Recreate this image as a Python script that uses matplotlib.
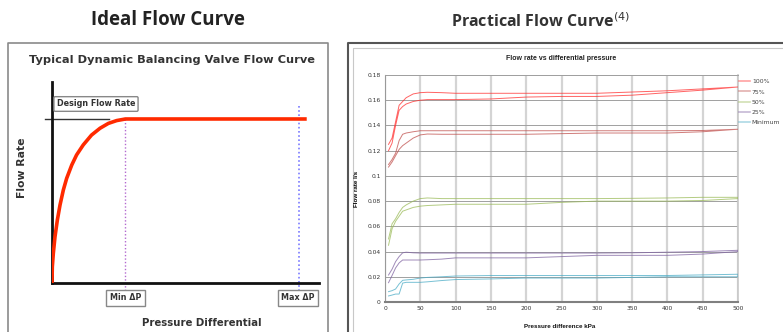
import matplotlib
matplotlib.use("Agg")
import matplotlib.pyplot as plt

W, H = 783, 332
DPI = 100

# ---------------- data: ideal (schematic) curve ----------------
ideal_dp = [0, 0.12, 0.5, 1.12, 2.0, 3.0, 4.25, 5.5, 7.4, 9.2, 11.7, 14.8, 18.0, 21.1, 24.2, 27.5, 95.4]
ideal_flow = [0, 8.1, 14.8, 23.0, 31.3, 38.8, 46.3, 52.1, 58.7, 63.7, 68.7, 73.6, 77.0, 79.4, 80.8, 81.6, 81.6]
design_flow = 81.6
min_dp = 27.3
max_dp = 92.5

# ---------------- data: practical curve (rising / falling pass) ----------------
pressure_kpa = [5, 10, 15, 20, 25, 30, 40, 50, 60, 80, 100, 150, 200, 250, 300, 350, 400, 450, 500]
flow_100_up = [0.125, 0.130, 0.143, 0.156, 0.159, 0.162, 0.165, 0.166, 0.1663, 0.166, 0.1655, 0.1655, 0.1655, 0.1655, 0.1655, 0.1665, 0.1675, 0.169, 0.1705]
flow_100_dn = [0.120, 0.126, 0.140, 0.152, 0.155, 0.157, 0.159, 0.160, 0.1605, 0.1605, 0.1605, 0.161, 0.1625, 0.163, 0.163, 0.164, 0.166, 0.168, 0.1705]
flow_75_up = [0.109, 0.113, 0.118, 0.128, 0.133, 0.134, 0.135, 0.1358, 0.1358, 0.1358, 0.1358, 0.1358, 0.1358, 0.1358, 0.1358, 0.1358, 0.1358, 0.136, 0.137]
flow_75_dn = [0.107, 0.111, 0.116, 0.121, 0.124, 0.126, 0.130, 0.1325, 0.1332, 0.133, 0.133, 0.133, 0.133, 0.1335, 0.134, 0.134, 0.134, 0.135, 0.137]
flow_50_up = [0.050, 0.062, 0.066, 0.071, 0.075, 0.077, 0.080, 0.082, 0.0825, 0.082, 0.082, 0.082, 0.082, 0.082, 0.082, 0.0822, 0.0825, 0.083, 0.083]
flow_50_dn = [0.045, 0.058, 0.064, 0.068, 0.072, 0.073, 0.075, 0.076, 0.0765, 0.077, 0.0775, 0.0775, 0.0775, 0.079, 0.080, 0.080, 0.080, 0.0805, 0.082]
flow_25_up = [0.0214, 0.026, 0.032, 0.036, 0.039, 0.0395, 0.039, 0.0388, 0.0388, 0.0388, 0.0388, 0.0388, 0.0388, 0.0388, 0.0388, 0.039, 0.0395, 0.040, 0.041]
flow_25_dn = [0.0153, 0.021, 0.027, 0.031, 0.0333, 0.0333, 0.0333, 0.0333, 0.0335, 0.034, 0.035, 0.035, 0.035, 0.036, 0.037, 0.037, 0.037, 0.038, 0.040]
flow_min_up = [0.0082, 0.009, 0.0103, 0.0143, 0.0172, 0.0175, 0.018, 0.019, 0.0195, 0.020, 0.0206, 0.021, 0.021, 0.021, 0.021, 0.021, 0.021, 0.0215, 0.022]
flow_min_dn = [0.0048, 0.0055, 0.0063, 0.0063, 0.0150, 0.0156, 0.0156, 0.0156, 0.016, 0.017, 0.0178, 0.0183, 0.019, 0.019, 0.019, 0.0195, 0.020, 0.020, 0.020]

series_labels = ["100%", "75%", "50%", "25%", "Minimum"]
series_up = [flow_100_up, flow_75_up, flow_50_up, flow_25_up, flow_min_up]
series_dn = [flow_100_dn, flow_75_dn, flow_50_dn, flow_25_dn, flow_min_dn]
series_colors = ["#ff3030", "#c0504d", "#9bbb59", "#8064a2", "#4bacc6"]

y_ticks = [0, 0.02, 0.04, 0.06, 0.08, 0.1, 0.12, 0.14, 0.16, 0.18]
y_ticklabels = ["0", "0.02", "0.04", "0.06", "0.08", "0.1", "0.12", "0.14", "0.16", "0.18"]
x_ticks = [0, 50, 100, 150, 200, 250, 300, 350, 400, 450, 500]

fig = plt.figure(figsize=(W / DPI, H / DPI), dpi=DPI)
fig.patch.set_facecolor("white")

def fx(px):
    return px / W

def fy(py):
    return 1 - py / H

def axes_px(x0, y0, x1, y1):
    return fig.add_axes([fx(x0), fy(y1), (x1 - x0) / W, (y1 - y0) / H])

# overlay for frames
ov = fig.add_axes([0, 0, 1, 1])
ov.set_xlim(0, W)
ov.set_ylim(H, 0)
ov.axis("off")
ov.plot([8, 8, 328, 328], [340, 43, 43, 340], color="#8a8a8a", lw=1.2)
ov.plot([348, 348, 790], [340, 43, 43], color="#555555", lw=1.5)
ov.plot([353, 353, 790], [340, 48, 48], color="#c8c8c8", lw=0.8)

# ---------------- headings ----------------
fig.text(fx(168), fy(20), "Ideal Flow Curve", ha="center", va="center",
         fontsize=13.5, fontweight="bold", family="Open Sans", color="#222222")
fig.text(fx(541), fy(22), "Practical Flow Curve$^{(4)}$", ha="center", va="center",
         fontsize=11.5, fontweight="bold", family="Open Sans", color="#333333")

# ---------------- left: ideal schematic ----------------
axL = axes_px(52, 82, 319, 283)
axL.set_xlim(0, 100)
axL.set_ylim(0, 100)
axL.plot(ideal_dp, ideal_flow, color="#ff2a00", lw=2.6, solid_capstyle="butt",
         solid_joinstyle="round", zorder=3)
axL.plot([-2.6, 21.3], [design_flow, design_flow], color="#333333", lw=1, clip_on=False)
axL.plot([min_dp, min_dp], [design_flow, -3.5], color="#b36ad0", lw=1, ls=(0, (1, 1.5)), clip_on=False)
axL.plot([max_dp, max_dp], [88, -3.5], color="#7a7aff", lw=1.2, ls=(0, (1, 1.5)), clip_on=False)
for s in ["top", "right"]:
    axL.spines[s].set_visible(False)
for s in ["left", "bottom"]:
    axL.spines[s].set_linewidth(2)
    axL.spines[s].set_color("#111111")
axL.set_xticks([])
axL.set_yticks([])
axL.patch.set_alpha(0)

fig.text(fx(172), fy(60), "Typical Dynamic Balancing Valve Flow Curve", ha="center", va="center",
         fontsize=8.2, fontweight="bold", family="DejaVu Sans", color="#333333")
box = dict(boxstyle="round,pad=0.35,rounding_size=0.15", fc="white", ec="#888888", lw=1)
fig.text(fx(96), fy(104), "Design Flow Rate", ha="center", va="center",
         fontsize=5.8, fontweight="bold", family="DejaVu Sans", color="#333333", bbox=box)
fig.text(fx(125.5), fy(298), "Min ΔP", ha="center", va="center",
         fontsize=5.8, fontweight="bold", family="DejaVu Sans", color="#333333",
         bbox=dict(boxstyle="square,pad=0.45", fc="white", ec="#888888", lw=1))
fig.text(fx(298), fy(298), "Max ΔP", ha="center", va="center",
         fontsize=5.8, fontweight="bold", family="DejaVu Sans", color="#333333",
         bbox=dict(boxstyle="square,pad=0.45", fc="white", ec="#888888", lw=1))
fig.text(fx(22), fy(168), "Flow Rate", ha="center", va="center", rotation=90,
         fontsize=7.8, fontweight="bold", family="DejaVu Sans", color="#333333")
fig.text(fx(202), fy(323), "Pressure Differential", ha="center", va="center",
         fontsize=7.3, fontweight="bold", family="DejaVu Sans", color="#333333")

# ---------------- right: practical chart ----------------
axR = axes_px(385, 75, 738, 302)
for lab, up, dn, col in zip(series_labels, series_up, series_dn, series_colors):
    xs = list(pressure_kpa) + list(pressure_kpa[::-1])
    ys = list(up) + list(dn[::-1])
    axR.plot(xs, ys, color=col, lw=0.7, alpha=0.75, label=lab, zorder=3)
axR.set_xlim(0, 500)
axR.set_ylim(0, 0.18)
axR.set_xticks(x_ticks)
axR.set_xticklabels([str(v) for v in x_ticks])
axR.set_yticks(y_ticks)
axR.set_yticklabels(y_ticklabels)
axR.tick_params(labelsize=4.3, length=0, pad=3, colors="#333333", labelcolor="#333333")
axR.xaxis.grid(True, color="#d4d4d4", lw=1.6)
axR.yaxis.grid(True, color="#a0a0a0", lw=0.7)
axR.set_axisbelow(True)
axR.spines["left"].set_color("#999999")
axR.spines["left"].set_linewidth(0.8)
axR.spines["bottom"].set_color("#808080")
axR.spines["bottom"].set_linewidth(1.5)
axR.spines["top"].set_color("#a0a0a0")
axR.spines["top"].set_linewidth(0.7)
axR.spines["right"].set_color("#c8c8c8")
axR.spines["right"].set_linewidth(1.2)
axR.set_title("Flow rate vs differential pressure", fontsize=5, fontweight="bold",
              family="Liberation Sans", color="#222222", pad=11)
axR.set_ylabel("Flow rate l/s", fontsize=4.5, fontweight="bold", family="Liberation Sans", labelpad=6)
fig.text(fx(560), fy(327), "Pressure difference kPa", ha="center", va="center",
         fontsize=4.5, fontweight="bold", family="Liberation Sans", color="#111111")
leg = axR.legend(loc="upper left", bbox_to_anchor=(0.0, 0.97), frameon=False,
                 fontsize=4.4, handlelength=1.8, handletextpad=0.3, labelspacing=0.82,
                 borderaxespad=0.0, borderpad=0.0)
leg.set_bbox_to_anchor((fx(739), fy(79)), transform=fig.transFigure)
for t in leg.get_texts():
    t.set_color("#444444")
for h in leg.legend_handles:
    h.set_alpha(0.45)
    h.set_linewidth(1.2)

fig.savefig("out.png", dpi=DPI, facecolor="white")
